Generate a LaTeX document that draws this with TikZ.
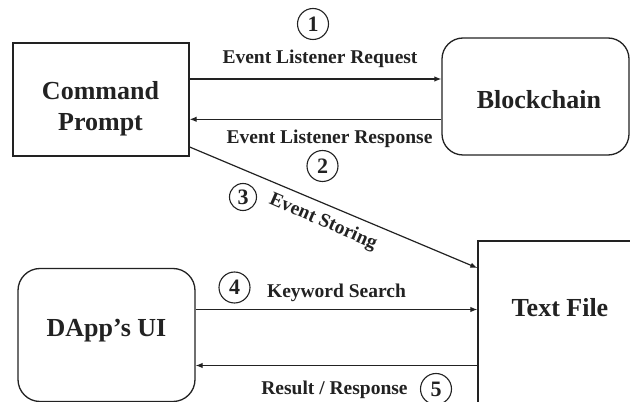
\documentclass[tikz,border=0pt]{standalone}
\usepackage{fontspec}
\setmainfont{Liberation Serif}
\usetikzlibrary{arrows.meta}
\definecolor{ink}{HTML}{222222}
\tikzset{
  box/.style={draw=ink, line width=1.3pt, rectangle, inner sep=0pt},
  rbox/.style={box, rounded corners=21pt},
  boxtext/.style={font=\bfseries\fontsize{26}{31}\selectfont, text=ink, align=center, inner sep=0pt},
  flowlabel/.style={font=\bfseries\fontsize{19.5}{23}\selectfont, text=ink, inner sep=0pt},
  stepnum/.style={draw=ink, line width=1.1pt, circle, inner sep=0pt, minimum size=31pt,
    font=\bfseries\fontsize{22}{24}\selectfont, text=ink},
  flow/.style={draw=ink, line width=1.2pt, -{Latex[length=7pt,width=5.5pt]}}
}
\begin{document}
\begin{tikzpicture}[x=1pt,y=1pt]
\path[use as bounding box] (0,0) rectangle (630,402);
\clip (0,0) rectangle (630,402);
\fill[white] (0,0) rectangle (630,402);

% the four parties
\node[box, minimum width=176pt, minimum height=113pt,
  label={[boxtext, xshift=-0.5pt, yshift=-8.9pt]center:Command\\Prompt}] (cmd) at (101,302.5) {};
\node[rbox, minimum width=187pt, minimum height=117pt,
  label={[boxtext, xshift=3.5pt, yshift=-3.5pt]center:Blockchain}] (blk) at (535.5,305.5) {};
\node[rbox, rounded corners=22pt, minimum width=177pt, minimum height=133pt,
  label={[boxtext, yshift=4.6pt]center:DApp’s UI}] (dapp) at (106.5,67) {};
\node[box, minimum width=182pt, minimum height=189pt,
  label={[boxtext, xshift=-9pt, yshift=27.5pt]center:Text File}] (txt) at (569,66.5) {};

% attachment points of the connectors
\coordinate (r1) at ([yshift=20.5pt]cmd.east);
\coordinate (r2) at ([yshift=-19.8pt]cmd.east);
\coordinate (s3) at ([yshift=-47.5pt]cmd.east);
\coordinate (e3) at ([yshift=67.5pt]txt.west);
\coordinate (r4) at ([yshift=25.5pt]dapp.east);
\coordinate (r5) at ([yshift=-30.5pt]dapp.east);

% connectors
\draw[flow] (r1) -- (r1 -| blk.west);
\draw[flow] (r2 -| blk.west) -- (r2);
\draw[flow] (s3) -- (e3);
\draw[flow] (r4) -- (r4 -| txt.west);
\draw[flow] (r5 -| txt.west) -- (r5);

% connector labels
\node[flowlabel] (l1) at (320,343.6) {Event Listener Request};
\node[flowlabel] (l2) at (329.5,263.6) {Event Listener Response};
\node[flowlabel, rotate=-23.5] (l3) at (323,180) {Event Storing};
\node[flowlabel] (l4) at (336.5,109.6) {Keyword Search};
\node[flowlabel] (l5) at (334.5,12.3) {Result / Response};

% step numbers
\node[stepnum] (n1) at (313,378) {1};
\node[stepnum] (n2) at (322.5,236) {2};
\node[stepnum, minimum size=27pt] (n3) at (243,205) {3};
\node[stepnum] (n4) at (234.5,114.5) {4};
\node[stepnum] (n5) at (436,13) {5};
\end{tikzpicture}
\end{document}
